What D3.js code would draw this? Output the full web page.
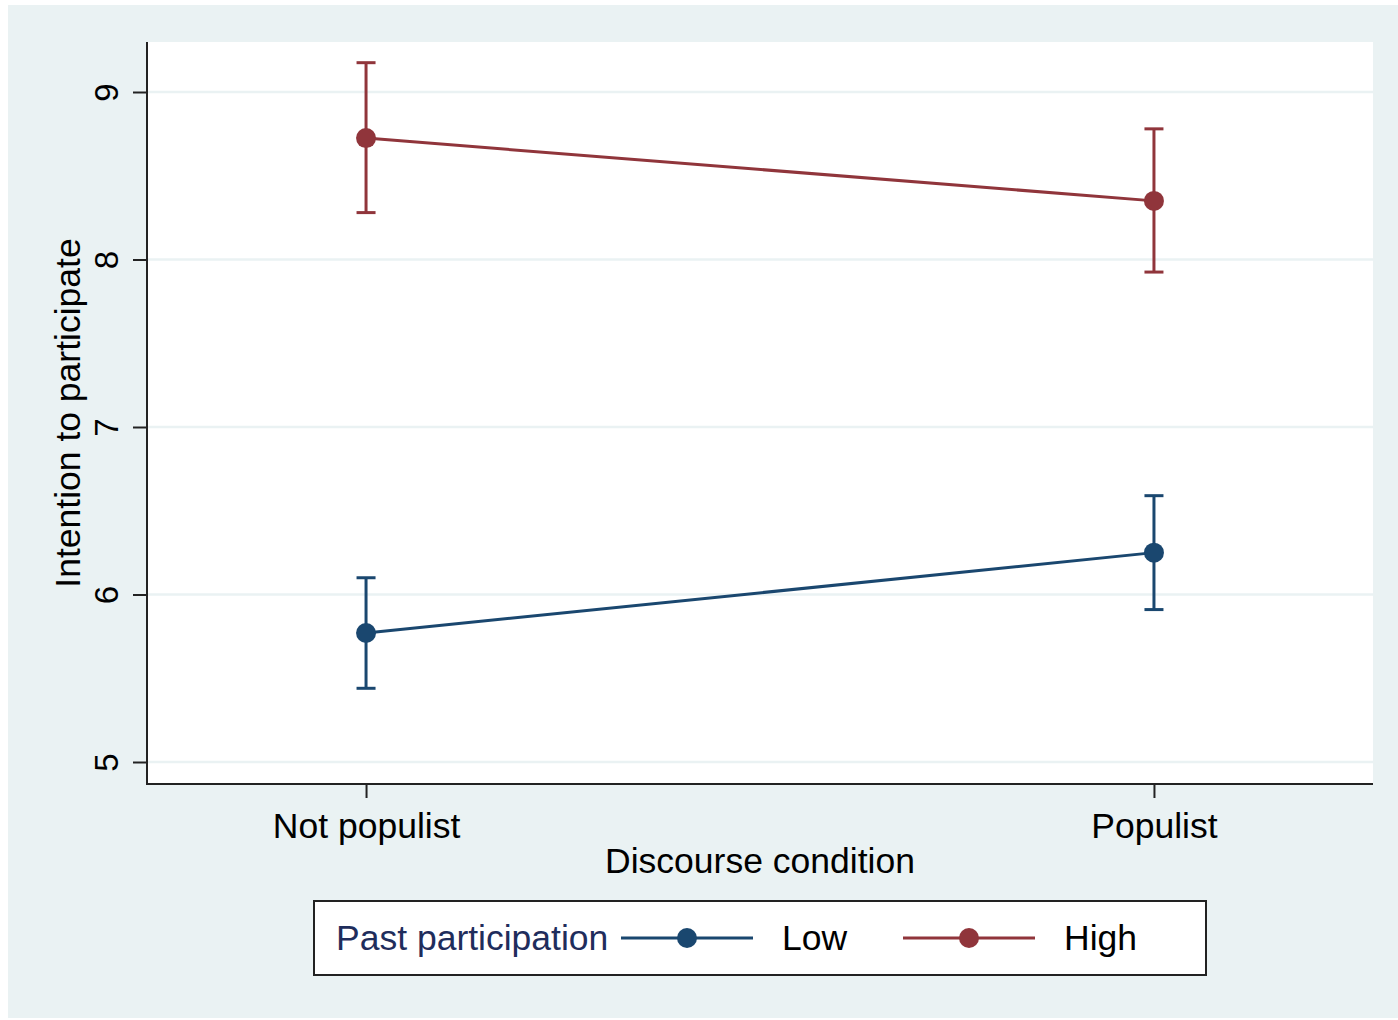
<!DOCTYPE html>
<html><head><meta charset="utf-8">
<script src="https://cdn.jsdelivr.net/npm/d3@7"></script>
<style>body{margin:0;background:#fff}svg{display:block}text{font-family:"Liberation Sans",Arial,sans-serif}</style>
</head><body>
<svg id="c" width="1398" height="1020"></svg>
<script>
const categories = ["Not populist", "Populist"];
const seriesNames = ["Low", "High"];
const lowMean = [5.77, 6.25];
const lowLo = [5.44, 5.91];
const lowHi = [6.10, 6.59];
const highMean = [8.725, 8.35];
const highLo = [8.28, 7.925];
const highHi = [9.175, 8.78];
const yTicks = [5, 6, 7, 8, 9];
const colors = ["#1a476f", "#90353b"];

const series = [
  {name: seriesNames[0], mean: lowMean, lo: lowLo, hi: lowHi, color: colors[0]},
  {name: seriesNames[1], mean: highMean, lo: highLo, hi: highHi, color: colors[1]}
];

const FS = 35.5;
const svg = d3.select("#c");
const L = 147, R = 1373, T = 42, B = 784;
svg.append("rect").attr("x", 8).attr("y", 5).attr("width", 1390).attr("height", 1013).attr("fill", "#eaf2f3");
svg.append("rect").attr("x", L).attr("y", T).attr("width", R - L).attr("height", B - T).attr("fill", "#fff");

const x = d3.scalePoint().domain(categories).range([L, R]).padding(0.278);
const y = d3.scaleLinear().domain([5, 9]).range([762, 92]);

// gridlines
svg.append("g").selectAll("line").data(yTicks).join("line")
  .attr("x1", L).attr("x2", R).attr("y1", d => y(d)).attr("y2", d => y(d))
  .attr("stroke", "#eaf2f3").attr("stroke-width", 2.5);

// y axis
const ya = svg.append("g").attr("transform", `translate(${L},0)`)
  .call(d3.axisLeft(y).tickValues(yTicks).tickSize(14).tickSizeOuter(0).tickFormat(d3.format("d")));
ya.select(".domain").remove();
ya.selectAll(".tick line").attr("stroke", "#222").attr("stroke-width", 2);
ya.selectAll(".tick text").attr("font-size", 33).attr("fill", "#000")
  .attr("x", 0).attr("dy", 0).attr("text-anchor", "middle")
  .attr("transform", "translate(-29,0) rotate(-90)");
svg.append("line").attr("x1", L).attr("x2", L).attr("y1", T).attr("y2", B + 1)
  .attr("stroke", "#222").attr("stroke-width", 2);

// x axis
const xa = svg.append("g").attr("transform", `translate(0,${B})`)
  .call(d3.axisBottom(x).tickSize(14).tickSizeOuter(0));
xa.select(".domain").remove();
xa.selectAll(".tick line").attr("stroke", "#222").attr("stroke-width", 2);
xa.selectAll(".tick text").attr("font-size", FS).attr("fill", "#000").attr("y", 54).attr("dy", 0);
svg.append("line").attr("x1", L - 1).attr("x2", R).attr("y1", B).attr("y2", B)
  .attr("stroke", "#222").attr("stroke-width", 2);

// axis titles
svg.append("text").attr("x", 760).attr("y", 873).attr("text-anchor", "middle")
  .attr("font-size", FS).attr("fill", "#000").text("Discourse condition");
svg.append("text").attr("transform", "translate(80,413) rotate(-90)").attr("text-anchor", "middle")
  .attr("font-size", FS).attr("fill", "#000").text("Intention to participate");

// series
series.forEach(s => {
  const g = svg.append("g");
  const pts = categories.map((c, i) => ({c, m: s.mean[i], lo: s.lo[i], hi: s.hi[i]}));
  g.selectAll("line.err").data(pts).join("line")
    .attr("x1", d => x(d.c)).attr("x2", d => x(d.c)).attr("y1", d => y(d.lo)).attr("y2", d => y(d.hi))
    .attr("stroke", s.color).attr("stroke-width", 3);
  ["lo", "hi"].forEach(k => {
    g.selectAll("line.cap" + k).data(pts).join("line")
      .attr("x1", d => x(d.c) - 9.5).attr("x2", d => x(d.c) + 9.5)
      .attr("y1", d => y(d[k])).attr("y2", d => y(d[k]))
      .attr("stroke", s.color).attr("stroke-width", 3);
  });
  g.append("path").datum(pts)
    .attr("d", d3.line().x(d => x(d.c)).y(d => y(d.m)))
    .attr("fill", "none").attr("stroke", s.color).attr("stroke-width", 3);
  g.selectAll("circle").data(pts).join("circle")
    .attr("cx", d => x(d.c)).attr("cy", d => y(d.m)).attr("r", 10).attr("fill", s.color);
});

// legend
const lg = svg.append("g");
lg.append("rect").attr("x", 314).attr("y", 901).attr("width", 892).attr("height", 74)
  .attr("fill", "#fff").attr("stroke", "#222").attr("stroke-width", 2);
lg.append("text").attr("x", 336).attr("y", 950).attr("font-size", FS).attr("fill", "#1f2d5c").text("Past participation");
const keyX = [621, 903];
const labX = [782, 1064];
series.forEach((s, i) => {
  lg.append("line").attr("x1", keyX[i]).attr("x2", keyX[i] + 132).attr("y1", 938).attr("y2", 938)
    .attr("stroke", s.color).attr("stroke-width", 3);
  lg.append("circle").attr("cx", keyX[i] + 66).attr("cy", 938).attr("r", 10).attr("fill", s.color);
  lg.append("text").attr("x", labX[i]).attr("y", 950).attr("font-size", FS).attr("fill", "#000").text(s.name);
});
</script>
</body></html>
